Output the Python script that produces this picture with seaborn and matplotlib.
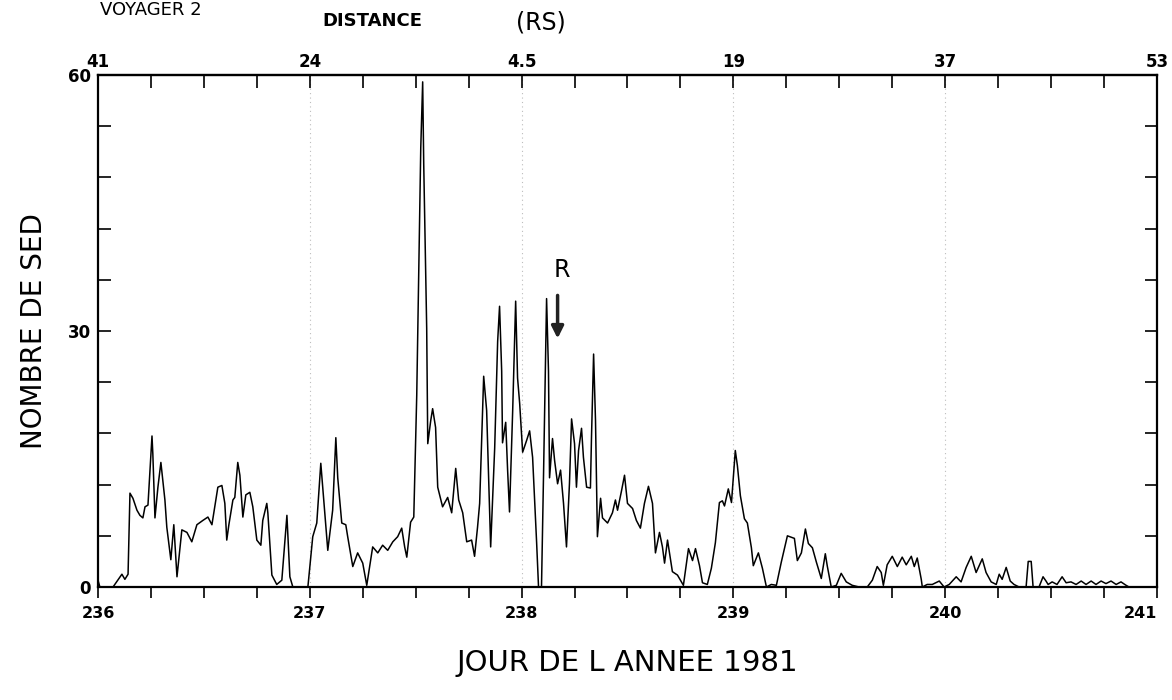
import numpy as np
import pandas as pd
import matplotlib
matplotlib.use("Agg")
import matplotlib.pyplot as plt
import seaborn as sns

# ------------------------------------------
# Data
# ------------------------------------------
days = [
    236.000, 236.009, 236.071, 236.113, 236.127, 236.142, 236.151, 236.165, 236.184, 236.198,
    236.212, 236.222, 236.236, 236.255, 236.259, 236.269, 236.283, 236.297, 236.316, 236.325,
    236.344, 236.358, 236.373, 236.396, 236.420, 236.443, 236.467, 236.495, 236.519, 236.538,
    236.566, 236.585, 236.599, 236.608, 236.618, 236.637, 236.646, 236.660, 236.670, 236.684,
    236.698, 236.717, 236.731, 236.750, 236.769, 236.778, 236.797, 236.802, 236.821, 236.844,
    236.868, 236.892, 236.906, 236.920, 236.991, 237.014, 237.033, 237.052, 237.061, 237.085,
    237.108, 237.123, 237.132, 237.151, 237.170, 237.179, 237.203, 237.226, 237.250, 237.269,
    237.297, 237.321, 237.344, 237.368, 237.392, 237.415, 237.434, 237.448, 237.458, 237.476,
    237.491, 237.505, 237.524, 237.533, 237.538, 237.552, 237.557, 237.571, 237.580, 237.594,
    237.604, 237.627, 237.651, 237.670, 237.689, 237.703, 237.722, 237.741, 237.764, 237.778,
    237.792, 237.802, 237.821, 237.835, 237.854, 237.873, 237.887, 237.896, 237.906, 237.910,
    237.925, 237.934, 237.943, 237.958, 237.972, 237.981, 237.991, 238.005, 238.024, 238.038,
    238.052, 238.071, 238.080, 238.094, 238.104, 238.118, 238.127, 238.132, 238.146, 238.156,
    238.170, 238.184, 238.198, 238.212, 238.226, 238.236, 238.250, 238.259, 238.269, 238.283,
    238.292, 238.307, 238.325, 238.330, 238.340, 238.349, 238.358, 238.373, 238.382, 238.406,
    238.429, 238.443, 238.453, 238.472, 238.486, 238.500, 238.524, 238.542, 238.561, 238.580,
    238.599, 238.618, 238.632, 238.651, 238.665, 238.675, 238.689, 238.712, 238.736, 238.764,
    238.788, 238.807, 238.821, 238.840, 238.854, 238.877, 238.896, 238.915, 238.934, 238.948,
    238.958, 238.976, 238.991, 239.009, 239.019, 239.033, 239.052, 239.066, 239.085, 239.094,
    239.118, 239.137, 239.156, 239.179, 239.203, 239.226, 239.241, 239.255, 239.278, 239.288,
    239.302, 239.321, 239.340, 239.354, 239.373, 239.392, 239.415, 239.434, 239.443, 239.462,
    239.486, 239.509, 239.533, 239.561, 239.594, 239.632, 239.656, 239.679, 239.698, 239.708,
    239.726, 239.750, 239.774, 239.797, 239.816, 239.840, 239.854, 239.868, 239.887, 239.892,
    239.915, 239.939, 239.972, 239.995, 240.019, 240.052, 240.075, 240.099, 240.123, 240.146,
    240.175, 240.193, 240.217, 240.241, 240.255, 240.269, 240.288, 240.307, 240.325, 240.349,
    240.382, 240.392, 240.406, 240.415, 240.443, 240.462, 240.476, 240.486, 240.505, 240.528,
    240.552, 240.571, 240.594, 240.618, 240.642, 240.665, 240.689, 240.712, 240.736, 240.759,
    240.783, 240.807, 240.830, 240.854, 240.868, 240.986,
]
sed_count = [
    0.8, 0.0, 0.0, 1.5, 0.9, 1.5, 11.0, 10.4, 9.0, 8.4,
    8.1, 9.4, 9.6, 17.7, 15.6, 8.1, 11.7, 14.6, 10.2, 7.0,
    3.2, 7.3, 1.2, 6.7, 6.4, 5.3, 7.3, 7.8, 8.2, 7.3,
    11.7, 11.9, 9.8, 5.5, 7.3, 10.2, 10.5, 14.6, 13.1, 8.2,
    10.8, 11.1, 9.4, 5.5, 4.9, 7.8, 9.8, 8.7, 1.4, 0.3,
    0.8, 8.4, 1.2, 0.0, 0.0, 5.9, 7.5, 14.5, 11.7, 4.3,
    9.0, 17.5, 12.8, 7.5, 7.3, 5.9, 2.4, 4.0, 2.8, 0.2,
    4.7, 4.0, 4.9, 4.3, 5.3, 5.9, 6.9, 4.7, 3.5, 7.6,
    8.2, 22.5, 51.5, 59.2, 49.5, 30.3, 16.8, 19.5, 20.9, 18.7,
    11.7, 9.4, 10.5, 8.7, 13.9, 10.2, 8.7, 5.3, 5.5, 3.6,
    7.0, 9.8, 24.7, 20.7, 4.7, 16.3, 28.8, 32.9, 25.3, 16.9,
    19.3, 13.7, 8.8, 20.7, 33.5, 24.5, 21.5, 15.8, 17.2, 18.3,
    15.2, 5.2, 0.0, 0.0, 13.7, 33.8, 25.3, 12.8, 17.4, 14.8,
    12.1, 13.7, 9.8, 4.7, 12.1, 19.7, 16.8, 11.7, 16.0, 18.6,
    15.2, 11.7, 11.6, 17.5, 27.3, 19.5, 5.9, 10.4, 8.1, 7.5,
    8.7, 10.2, 9.0, 11.3, 13.1, 9.8, 9.2, 7.8, 6.9, 9.8,
    11.8, 9.8, 4.0, 6.4, 4.7, 2.8, 5.5, 1.8, 1.4, 0.2,
    4.5, 3.1, 4.5, 2.5, 0.5, 0.3, 2.2, 5.2, 9.9, 10.1,
    9.5, 11.5, 9.9, 16.0, 14.2, 10.7, 8.0, 7.5, 4.6, 2.5,
    4.0, 2.2, 0.0, 0.3, 0.2, 2.9, 4.5, 6.0, 5.8, 5.7,
    3.1, 4.0, 6.8, 5.1, 4.6, 2.9, 1.0, 3.9, 2.5, 0.0,
    0.2, 1.6, 0.6, 0.2, 0.0, 0.0, 0.8, 2.4, 1.7, 0.2,
    2.6, 3.6, 2.4, 3.5, 2.6, 3.6, 2.4, 3.4, 0.9, 0.0,
    0.3, 0.3, 0.7, 0.0, 0.3, 1.2, 0.6, 2.3, 3.6, 1.7,
    3.3, 1.7, 0.6, 0.3, 1.5, 0.9, 2.3, 0.7, 0.3, 0.0,
    0.0, 3.0, 3.0, 0.0, 0.0, 1.2, 0.7, 0.3, 0.6, 0.3,
    1.2, 0.5, 0.6, 0.3, 0.7, 0.3, 0.7, 0.3, 0.7, 0.4,
    0.7, 0.3, 0.6, 0.2, 0.0, 0.0,
]

day_ticks = [236, 237, 238, 239, 240, 241]
day_labels = ["236", "237", "238", "239", "240", "241"]
distance_labels = ["41", "24", "4.5", "19", "37", "53"]
y_labels = [0, 30, 60]
grid_days = [237, 238, 239, 240]
ring_day = 238.17

df = pd.DataFrame({"day": days, "sed": sed_count})

# ------------------------------------------
# Figure
# ------------------------------------------
sns.set_theme(style="ticks")
plt.rcParams["font.family"] = ["DejaVu Sans"]
plt.rcParams["text.color"] = "black"
plt.rcParams["axes.labelcolor"] = "black"
plt.rcParams["xtick.color"] = "black"
plt.rcParams["ytick.color"] = "black"

fig = plt.figure(figsize=(11.72, 7.0), dpi=100)
ax = fig.add_axes([0.0836, 0.1614, 0.9036, 0.7314])

for d in grid_days:
    ax.axvline(d, color="#bdbdbd", lw=0.8, ls=(0, (1, 3)), zorder=0)

sns.lineplot(data=df, x="day", y="sed", color="black", lw=1.1,
             estimator=None, sort=False, ax=ax)

ax.set_xlim(236, 241)
ax.set_ylim(0, 60)

for s in ax.spines.values():
    s.set_linewidth(1.6)
    s.set_color("black")

# bottom axis: days
ax.set_xticks(day_ticks)
ax.set_xticklabels(day_labels, fontsize=11.5, fontweight="bold")
ax.set_xticks(np.arange(236, 241.01, 0.25), minor=True)
ax.tick_params(axis="x", which="both", direction="out", length=8, width=1.2,
               top=False, pad=6)
ax.get_xticklabels()[-1].set_horizontalalignment("right")

# left / right axis
ax.set_yticks(y_labels)
ax.set_yticklabels([str(v) for v in y_labels], fontsize=12, fontweight="bold")
ax.set_yticks(np.arange(0, 61, 6), minor=True)
ax.tick_params(axis="y", which="both", direction="in", length=9, width=1.2,
               right=True, pad=5)

# top axis: distance
top = ax.secondary_xaxis("top")
top.set_xticks(day_ticks)
top.set_xticklabels(distance_labels, fontsize=12, fontweight="bold")
top.set_xticks(np.arange(236, 241.01, 0.25), minor=True)
top.tick_params(axis="x", which="both", direction="in", length=9, width=1.2, pad=3)
top.spines["top"].set_linewidth(1.6)

ax.set_xlabel("JOUR DE L ANNEE 1981", fontsize=21, labelpad=20)
ax.set_ylabel("NOMBRE DE SED", fontsize=20, labelpad=14)

# ring crossing marker
ax.text(ring_day + 0.02, 37.2, "R", fontsize=17, ha="center", va="center")
ax.annotate("", xy=(ring_day, 28.8), xytext=(ring_day, 34.5),
            arrowprops=dict(arrowstyle="-|>", color="#222222", lw=2.5,
                            mutation_scale=18))

fig.text(0.275, 0.970, "DISTANCE", fontsize=13, fontweight="bold", ha="left", va="center")
fig.text(0.44, 0.968, "(RS)", fontsize=17, ha="left", va="center")
fig.text(0.085, 0.999, "VOYAGER 2", fontsize=13, ha="left", va="top")

fig.savefig("out.png", dpi=100)
